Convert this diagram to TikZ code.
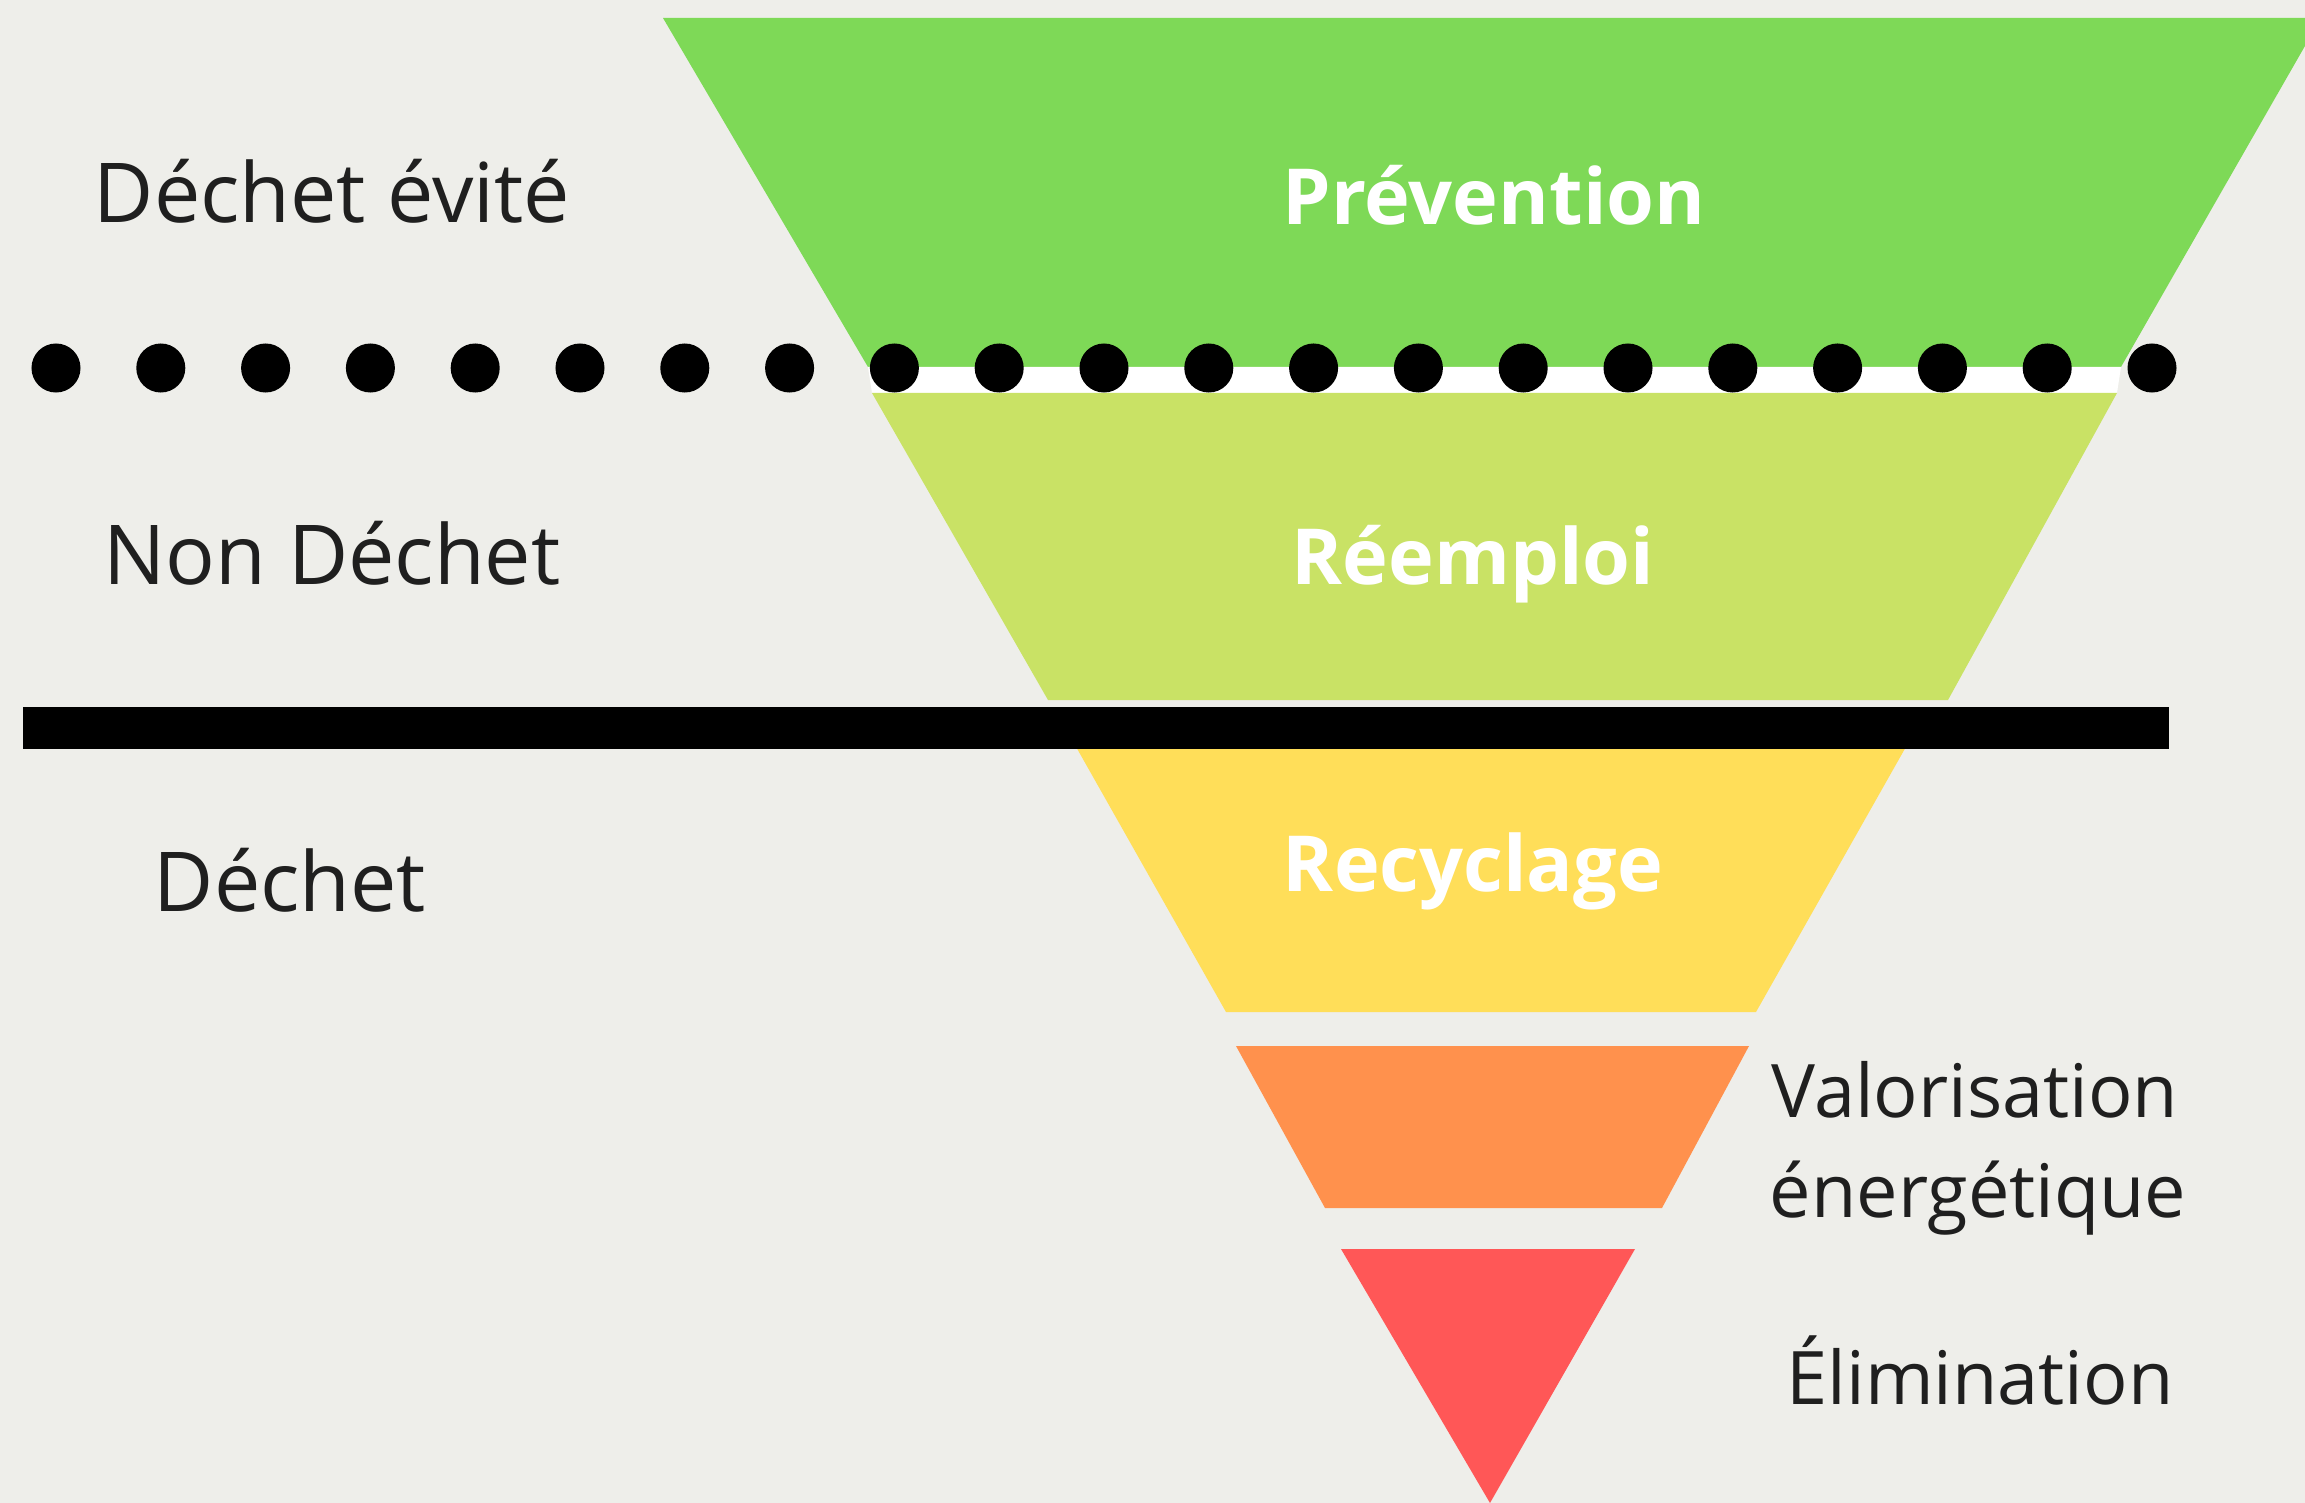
\documentclass[tikz,border=0pt]{standalone}
\usepackage{fontspec}
\setmainfont{Open Sans}
\usetikzlibrary{positioning}

\definecolor{paper}{HTML}{EEEEEA}
\definecolor{prevgreen}{HTML}{7ED957}
\definecolor{reemlime}{HTML}{C9E265}
\definecolor{recyellow}{HTML}{FFDE59}
\definecolor{valorange}{HTML}{FF914D}
\definecolor{elimred}{HTML}{FF5757}

\begin{document}
\begin{tikzpicture}[x=0.01cm,y=-0.01cm,
	levelname/.style={anchor=base,text=white,font=\bfseries\fontsize{22}{26}\selectfont},
	zonename/.style={anchor=base,text=black!88,font=\fontsize{23.5}{28}\selectfont},
	sidename/.style={anchor=base,text=black!88,font=\fontsize{21}{25}\selectfont}]
	\useasboundingbox (0,0) rectangle (2305,1503);
	\fill[paper] (0,0) rectangle (2305,1503);
	\clip (0,0) rectangle (2305,1503);

	\coordinate (g1) at (663,18);
	\coordinate (g2) at (2321,18);
	\coordinate (g3) at (2121,367);
	\coordinate (g4) at (868,367);
	\coordinate (l1) at (872,393);
	\coordinate (l2) at (2117,393);
	\coordinate (l3) at (1948,700);
	\coordinate (l4) at (1048,700);
	\coordinate (y1) at (1075,745);
	\coordinate (y2) at (1907,745);
	\coordinate (y3) at (1756,1012);
	\coordinate (y4) at (1226,1012);
	\coordinate (o1) at (1236,1046);
	\coordinate (o2) at (1749,1046);
	\coordinate (o3) at (1662,1208);
	\coordinate (o4) at (1325,1208);
	\coordinate (r1) at (1341,1249);
	\coordinate (r2) at (1635,1249);
	\coordinate (r3) at (1490,1503);

	\fill[prevgreen] (g1) -- (g2) -- (g3) -- (g4) -- cycle;
	\fill[white] (g4) -- (g3) -- (l2) -- (l1) -- cycle;
	\fill[reemlime] (l1) -- (l2) -- (l3) -- (l4) -- cycle;
	\fill[recyellow] (y1) -- (y2) -- (y3) -- (y4) -- cycle;
	\fill[valorange] (o1) -- (o2) -- (o3) -- (o4) -- cycle;
	\fill[elimred] (r1) -- (r2) -- (r3) -- cycle;

	\foreach \i in {0,...,20}
		\fill[black] (56+104.8*\i,368) circle[radius=0.245cm];
	\fill[black] (23,707) rectangle (2169,749);

	\node[levelname] (prev) at (1494,225) {Prévention};
	\node[levelname] (reem) at (1473,584) {Réemploi};
	\node[levelname] (recy) at (1473,891) {Recyclage};

	\node[zonename] (avoid) at (332,223) {Déchet évité};
	\node[zonename] (nond) at (332,584) {Non Déchet};
	\node[zonename] (dech) at (290,911) {Déchet};

	\node[sidename] (valo) at (1975,1117) {Valorisation};
	\node[sidename] (ener) at (1978,1217) {énergétique};
	\node[sidename] (elim) at (1980,1404) {Élimination};
\end{tikzpicture}
\end{document}
